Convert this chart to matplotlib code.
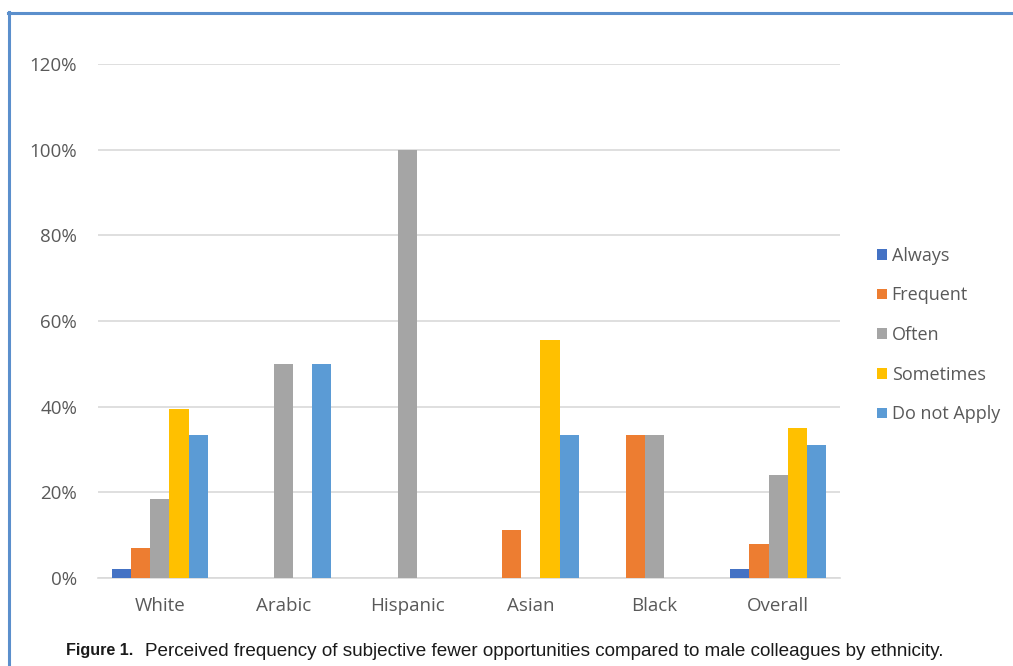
import matplotlib

matplotlib.use("Agg")
import matplotlib.pyplot as plt
from matplotlib.lines import Line2D
from matplotlib.patches import Patch
from matplotlib.ticker import FuncFormatter
import numpy as np

# 各族裔类别与应答频次占比（%）
categories = ["White", "Arabic", "Hispanic", "Asian", "Black", "Overall"]
series_names = ["Always", "Frequent", "Often", "Sometimes", "Do not Apply"]
always = [2.0, 0.0, 0.0, 0.0, 0.0, 2.0]
frequent = [7.0, 0.0, 0.0, 11.1, 33.3, 8.0]
often = [18.5, 50.0, 100.0, 0.0, 33.3, 24.0]
sometimes = [39.5, 0.0, 0.0, 55.6, 0.0, 35.0]
do_not_apply = [33.3, 50.0, 0.0, 33.3, 0.0, 31.0]
y_ticks = [0, 20, 40, 60, 80, 100, 120]

colors = ["#4472C4", "#ED7D31", "#A5A5A5", "#FFC000", "#5B9BD5"]
series = [always, frequent, often, sometimes, do_not_apply]

W, H = 1013, 666
fig = plt.figure(figsize=(W / 100, H / 100), dpi=100)
ax = fig.add_axes([98 / W, (H - 578) / H, (840 - 98) / W, (578 - 64) / H])

x = np.arange(len(categories))
bar_w = 0.155
for i, (vals, color) in enumerate(zip(series, colors)):
    offset = (i - 2) * bar_w
    ax.bar(x + offset, vals, width=bar_w, color=color, zorder=3)

ax.set_xlim(-0.5, len(categories) - 0.5)
ax.set_ylim(0, 120)
ax.set_yticks(y_ticks)
ax.yaxis.set_major_formatter(FuncFormatter(lambda v, _: f"{v:.0f}%"))
ax.set_xticks(x)
ax.set_xticklabels(categories)
ax.tick_params(axis="both", length=0, labelsize=13.5, labelcolor="#595959")
ax.tick_params(axis="x", pad=14)
ax.tick_params(axis="y", pad=15)
for label in ax.get_xticklabels() + ax.get_yticklabels():
    label.set_fontfamily("Open Sans")
ax.grid(True, axis="y", color="#D9D9D9", linewidth=1.2, zorder=0)
for side in ("top", "right", "left"):
    ax.spines[side].set_visible(False)
ax.spines["bottom"].set_color("#D9D9D9")
ax.spines["bottom"].set_linewidth(1.2)

handles = [Patch(facecolor=c, edgecolor="none") for c in colors]
fig.legend(
    handles,
    series_names,
    loc="center left",
    bbox_to_anchor=(861 / W, 1 - 335 / H),
    frameon=False,
    handlelength=0.55,
    handleheight=0.55,
    handletextpad=0.25,
    labelspacing=1.2,
    prop={"family": "Open Sans", "size": 13},
    labelcolor="#595959",
)

# 外框（左、上蓝线）
fig.add_artist(Line2D([8.5 / W, 8.5 / W], [0, 1 - 12 / H], color="#5B8FCC", linewidth=2.2))
fig.add_artist(Line2D([8 / W, 1], [1 - 12.5 / H, 1 - 12.5 / H], color="#5B8FCC", linewidth=2.2))

fig.text(66 / W, 1 - 651 / H, "Figure 1.", fontsize=11.6, fontweight="bold",
         family="Liberation Sans", va="center", ha="left", color="#1a1a1a")
fig.text(145 / W, 1 - 651 / H,
         "Perceived frequency of subjective fewer opportunities compared to male colleagues by ethnicity.",
         fontsize=13.6, family="Liberation Sans", va="center", ha="left", color="#1a1a1a")

fig.savefig("out.png", dpi=100)
